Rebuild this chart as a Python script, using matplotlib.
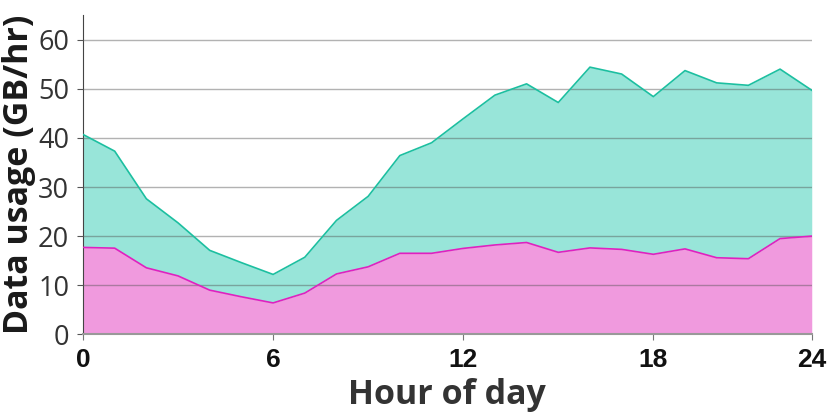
import matplotlib
matplotlib.use("Agg")
import matplotlib.pyplot as plt
import numpy as np

hours = list(range(24))
base = [17.7, 17.55, 13.55, 11.9, 9.0, 7.65, 6.4, 8.4, 12.3, 13.75, 16.5, 16.5,
        17.5, 18.2, 18.7, 16.7, 17.6, 17.3, 16.3, 17.4, 15.6, 15.4, 19.5, 20.0]
total = [40.7, 37.3, 27.6, 22.7, 17.1, 14.6, 12.2, 15.7, 23.2, 28.1, 36.4, 39.0,
         43.9, 48.7, 51.0, 47.2, 54.4, 53.0, 48.4, 53.7, 51.2, 50.7, 54.0, 49.7]
yticks = [0, 10, 20, 30, 40, 50, 60]
xtick_pos = [0, 6, 12, 18, 23]
xtick_labels = ["0", "6", "12", "18", "24"]

fig = plt.figure(figsize=(8.3, 4.19), dpi=100)
ax = fig.add_axes([0.1, 0.202, 0.878, 0.762])

ax.fill_between(hours, 0, base, color="#f09ade", lw=0, zorder=1)
ax.fill_between(hours, base, total, color="#98e5d9", lw=0, zorder=1)
ax.plot(hours, base, color="#e020c0", lw=1.2, zorder=3)
ax.plot(hours, total, color="#1cbfa0", lw=1.2, zorder=3)

ax.set_xlim(0, 23)
ax.set_ylim(0, 65)
ax.set_yticks(yticks)
ax.grid(axis="y", color="#555555", alpha=0.45, lw=1.0, zorder=2)
ax.set_axisbelow(False)
for line in ax.get_ygridlines():
    line.set_zorder(2)

ax.set_yticklabels([str(v) for v in yticks], fontfamily="Open Sans",
                   fontsize=19.5, color="#333333")
ax.set_xticks(xtick_pos)
ax.set_xticklabels(xtick_labels, fontfamily="Liberation Sans",
                   fontweight="bold", fontsize=19, color="#111111")
ax.tick_params(axis="y", length=4, color="#555555", pad=6)
ax.tick_params(axis="x", length=4, color="#777777", pad=6)

for s in ["top", "right"]:
    ax.spines[s].set_visible(False)
ax.spines["left"].set_color("#444444")
ax.spines["bottom"].set_color("#999999")
ax.spines["bottom"].set_linewidth(1.5)
ax.spines["bottom"].set_zorder(4)

ax.set_xlabel("Hour of day", fontfamily="Open Sans", fontweight="bold",
              fontsize=24.5, color="#333333", labelpad=4)
ax.set_ylabel("Data usage (GB/hr)", fontfamily="Open Sans", fontweight="bold",
              fontsize=24.5, color="#1a1a1a")
ax.yaxis.set_label_coords(-0.064, 0.5)

fig.savefig("out.png", dpi=100)
